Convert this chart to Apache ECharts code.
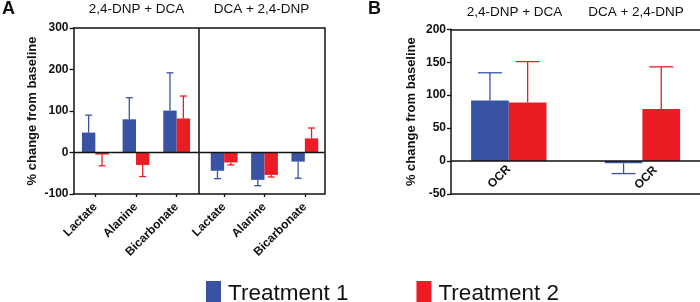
<!DOCTYPE html>
<html>
<head>
<meta charset="utf-8">
<script src="https://cdn.jsdelivr.net/npm/echarts@6/dist/echarts.min.js"></script>
<style>html,body{margin:0;padding:0;background:#fff}#c{width:700px;height:302px}</style>
</head>
<body>
<div id="c"></div>
<script>
// ---- data ----
const catsA = ['Lactate', 'Alanine', 'Bicarbonate'];
const catsB = ['OCR', 'OCR'];
const groupTitles = ['2,4-DNP + DCA', 'DCA + 2,4-DNP'];
const seriesNames = ['Treatment 1', 'Treatment 2'];
const yTicksA = [-100, 0, 100, 200, 300];
const yTicksB = [-50, 0, 50, 100, 150, 200];

// Panel A, group "2,4-DNP + DCA"
const a1_t1 = [48, 80, 101];
const a1_t1_sd = [42, 52, 91];
const a1_t2 = [-5, -30, 82];
const a1_t2_sd = [27, 28, 54];
// Panel A, group "DCA + 2,4-DNP"
const a2_t1 = [-44, -66, -22];
const a2_t1_sd = [19, 14, 40];
const a2_t2 = [-24, -54, 34];
const a2_t2_sd = [6, 5, 25];
// Panel B, OCR (group1, group2)
const b_t1 = [92, -3.5];
const b_t1_sd = [42, 15.5];
const b_t2 = [89, 79];
const b_t2_sd = [62, 64];

// ---- styles ----
const BLUE = '#3953a4';
const RED = '#ec1c24';
const FONT = '"Liberation Sans", Arial, Helvetica, sans-serif';
const bwA = 13.4, bwB = 37.7;

function errSeries(name, xi, yi, means, sds, side, bw, capHalf, color) {
  return {
    type: 'custom', name: name, xAxisIndex: xi, yAxisIndex: yi, silent: true, z: 1,
    data: means.map((m, i) => [i, m, sds[i]]),
    renderItem: function (params, api) {
      const idx = api.value(0), m = api.value(1), sd = api.value(2);
      const end = m >= 0 ? m + sd : m - sd;
      const p0 = api.coord([idx, m]);
      const p1 = api.coord([idx, end]);
      const x = p0[0] + side * bw / 2;
      const st = { stroke: color, lineWidth: 1.3 };
      return {
        type: 'group', children: [
          { type: 'line', shape: { x1: x, y1: p0[1], x2: x, y2: p1[1] }, style: st },
          { type: 'line', shape: { x1: x - capHalf, y1: p1[1], x2: x + capHalf, y2: p1[1] }, style: st }
        ]
      };
    }
  };
}
function barSeries(name, xi, yi, data, color, bw) {
  return { type: 'bar', name: name, xAxisIndex: xi, yAxisIndex: yi, data: data,
    barWidth: bw, barGap: '0%', itemStyle: { color: color }, silent: true, z: 2 };
}

const lineBlack = { show: true, lineStyle: { color: '#111', width: 1.5 } };
const hiddenY = (min, max) => ({ type: 'value', min: min, max: max, show: false });
const catLabel = { fontFamily: FONT, fontWeight: 'bold', fontSize: 12, color: '#111', rotate: 45 };
const valLabel = { fontFamily: FONT, fontWeight: 'bold', fontSize: 12, color: '#111', margin: 5 };
const yName = { fontFamily: FONT, fontWeight: 'bold', fontSize: 13, color: '#111' };
const G = (o) => Object.assign({ outerBoundsMode: 'none', containLabel: false }, o);

const chart = echarts.init(document.getElementById('c'));
chart.setOption({
  animation: false,
  backgroundColor: '#fff',
  graphic: [
    { type: 'text', left: 2, top: 0, style: { text: 'A', font: 'bold 18px ' + FONT, fill: '#111' } },
    { type: 'text', left: 368, top: 0, style: { text: 'B', font: 'bold 18px ' + FONT, fill: '#111' } },
    { type: 'text', x: 136.5, y: 9, style: { text: groupTitles[0], font: '13.5px ' + FONT, fill: '#111', textAlign: 'center', textVerticalAlign: 'middle' } },
    { type: 'text', x: 261.5, y: 9, style: { text: groupTitles[1], font: '13.5px ' + FONT, fill: '#111', textAlign: 'center', textVerticalAlign: 'middle' } },
    { type: 'text', x: 514.5, y: 12, style: { text: groupTitles[0], font: '13.5px ' + FONT, fill: '#111', textAlign: 'center', textVerticalAlign: 'middle' } },
    { type: 'text', x: 636, y: 12, style: { text: groupTitles[1], font: '13.5px ' + FONT, fill: '#111', textAlign: 'center', textVerticalAlign: 'middle' } }
  ],
  legend: {
    left: 201, top: 276, itemWidth: 15, itemHeight: 26, itemGap: 68,
    icon: 'rect', data: seriesNames,
    textStyle: { fontFamily: FONT, fontSize: 22.5, color: '#111', padding: [0, 0, 0, 2] }
  },
  grid: [
    G({ left: 73.5, top: 28, width: 251, height: 166 }),   // 0 frame A
    G({ left: 75, top: 28, width: 122, height: 166 }),     // 1 bars A left
    G({ left: 204, top: 28, width: 121, height: 166 }),    // 2 bars A right
    G({ left: 451, top: 29.3, width: 249, height: 164.7 }),// 3 frame B
    G({ left: 442, top: 29.3, width: 267.2, height: 164.7 }), // 4 bars B
    G({ left: 455, top: 29.3, width: 267.2, height: 164.7 })  // 5 label of 2nd OCR group
  ],
  yAxis: [
    { gridIndex: 0, type: 'value', min: yTicksA[0], max: yTicksA[yTicksA.length - 1], interval: 100,
      axisLine: lineBlack, axisTick: { show: true, length: 4, lineStyle: { color: '#111', width: 1.3 } },
      axisLabel: valLabel, splitLine: { show: false },
      name: '% change from baseline', nameLocation: 'middle', nameGap: 35, nameTextStyle: yName },
    { gridIndex: 0, type: 'value', position: 'right', min: -100, max: 300,
      axisLine: lineBlack, axisTick: { show: false }, axisLabel: { show: false }, splitLine: { show: false } },
    Object.assign(hiddenY(-100, 300), { gridIndex: 1 }),
    Object.assign(hiddenY(-100, 300), { gridIndex: 2 }),
    { gridIndex: 3, type: 'value', min: yTicksB[0], max: yTicksB[yTicksB.length - 1], interval: 50,
      axisLine: lineBlack, axisTick: { show: true, length: 4, lineStyle: { color: '#111', width: 1.3 } },
      axisLabel: valLabel, splitLine: { show: false },
      name: '% change from baseline', nameLocation: 'middle', nameGap: 33, nameTextStyle: yName },
    Object.assign(hiddenY(-50, 200), { gridIndex: 4 }),
    Object.assign(hiddenY(-50, 200), { gridIndex: 5 })
  ],
  xAxis: [
    { gridIndex: 0, type: 'category', data: ['a', 'b', 'c'], boundaryGap: false, position: 'bottom',
      axisLine: Object.assign({ onZero: false }, lineBlack), axisTick: { show: false }, axisLabel: { show: false } },
    { gridIndex: 0, type: 'category', data: ['a', 'b', 'c'], boundaryGap: false, position: 'top',
      axisLine: Object.assign({ onZero: false }, lineBlack), axisTick: { show: false }, axisLabel: { show: false } },
    { gridIndex: 1, type: 'category', data: catsA, position: 'bottom',
      axisLine: { show: false, onZero: false },
      axisTick: { show: true, alignWithLabel: true, length: 3, lineStyle: { color: '#111', width: 1.3 } },
      axisLabel: Object.assign({ margin: 11, interval: 0 }, catLabel) },
    { gridIndex: 2, type: 'category', data: catsA, position: 'bottom',
      axisLine: { show: false, onZero: false },
      axisTick: { show: true, alignWithLabel: true, length: 3, lineStyle: { color: '#111', width: 1.3 } },
      axisLabel: Object.assign({ margin: 11, interval: 0 }, catLabel) },
    { gridIndex: 3, type: 'category', data: ['a', 'b'], boundaryGap: false, position: 'bottom',
      axisLine: Object.assign({ onZero: false }, lineBlack), axisTick: { show: false }, axisLabel: { show: false } },
    { gridIndex: 3, type: 'category', data: ['a', 'b'], boundaryGap: false, position: 'top',
      axisLine: Object.assign({ onZero: false }, lineBlack), axisTick: { show: false }, axisLabel: { show: false } },
    { gridIndex: 4, type: 'category', data: [catsB[0], ' '], position: 'bottom', offset: -32.7,
      axisLine: { show: false, onZero: false }, axisTick: { show: false },
      axisLabel: Object.assign({ margin: 6, interval: 0 }, catLabel) },
    { gridIndex: 5, type: 'category', data: [' ', catsB[1]], position: 'bottom', offset: -32.7,
      axisLine: { show: false, onZero: false }, axisTick: { show: false },
      axisLabel: Object.assign({ margin: 7, interval: 0 }, catLabel) }
  ],
  series: [
    // zero line + divider in panel A
    { type: 'line', xAxisIndex: 0, yAxisIndex: 0, data: [0, 0, 0], symbol: 'none', silent: true, z: 5,
      lineStyle: { color: '#111', width: 1.5 },
      markLine: { silent: true, symbol: 'none', label: { show: false },
        lineStyle: { color: '#111', width: 1.5, type: 'solid' }, data: [{ xAxis: 'b' }] } },
    // zero line panel B
    { type: 'line', xAxisIndex: 4, yAxisIndex: 4, data: [0, 0], symbol: 'none', silent: true, z: 5,
      lineStyle: { color: '#111', width: 1.5 } },
    barSeries(seriesNames[0], 2, 2, a1_t1, BLUE, bwA),
    barSeries(seriesNames[1], 2, 2, a1_t2, RED, bwA),
    barSeries(seriesNames[0], 3, 3, a2_t1, BLUE, bwA),
    barSeries(seriesNames[1], 3, 3, a2_t2, RED, bwA),
    barSeries(seriesNames[0], 6, 5, b_t1, BLUE, bwB),
    barSeries(seriesNames[1], 6, 5, b_t2, RED, bwB),
    errSeries('e1', 2, 2, a1_t1, a1_t1_sd, -1, bwA, 3.5, BLUE),
    errSeries('e2', 2, 2, a1_t2, a1_t2_sd, 1, bwA, 3.5, RED),
    errSeries('e3', 3, 3, a2_t1, a2_t1_sd, -1, bwA, 3.5, BLUE),
    errSeries('e4', 3, 3, a2_t2, a2_t2_sd, 1, bwA, 3.5, RED),
    errSeries('e5', 6, 5, b_t1, b_t1_sd, -1, bwB, 12, BLUE),
    errSeries('e6', 6, 5, b_t2, b_t2_sd, 1, bwB, 12, RED)
  ]
});
</script>
</body>
</html>
